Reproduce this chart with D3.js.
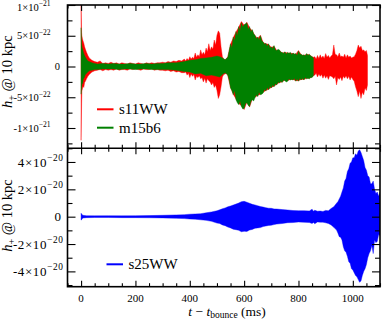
<!DOCTYPE html>
<html><head><meta charset="utf-8">
<script src="https://cdn.jsdelivr.net/npm/d3@7"></script>
<style>body{margin:0;background:#fff}svg{display:block}text{font-family:"Liberation Serif","DejaVu Serif",serif;fill:#000}</style>
</head><body><svg id="c" width="382" height="321"></svg>
<script>
// rows: [t (ms), upper envelope, lower envelope]; top panel in units of 1e-22, bottom in 1e-20
const s11WW = [
[0,10.5,-12.0],[1,8,-9],[2,5.5,-6],[3,5,-4],[5,4.5,-3.6],[7,4.2,-3.2],[10,3.8,-3.4],[13,3.2,-2.6],[16,2.8,-2.4],[20,2.3,-2.0],
[25,1.8,-1.6],[30,1.4,-1.3],[40,1.0,-0.9],[50,0.8,-0.7],[60,0.7,-0.6],[70,0.9,-0.5],[80,0.5,-0.7],[90,0.6,-0.5],[100,0.5,-0.6],
[110,0.7,-0.5],[120,0.5,-0.6],[130,0.6,-0.4],[140,0.4,-0.6],[150,0.6,-0.5],[160,0.5,-0.5],[170,0.4,-0.6],[180,0.6,-0.4],[190,0.5,-0.5],
[200,0.4,-0.4],[210,0.6,-0.5],[220,0.5,-0.6],[230,0.4,-0.4],[240,0.6,-0.5],[250,0.5,-0.5],[260,0.6,-0.4],[270,0.5,-0.6],[280,0.6,-0.5],
[290,0.6,-0.6],[300,0.7,-0.6],[310,0.6,-0.7],[320,0.8,-0.6],[330,0.7,-0.8],[340,0.9,-0.7],[350,0.8,-0.9],[360,1.0,-0.8],[370,0.9,-1.0],
[380,1.2,-1.0],[385,0.9,-0.9],[390,1.3,-1.4],[395,1.0,-1.1],[400,1.6,-1.8],[405,1.2,-1.2],[410,1.5,-1.6],[415,1.3,-1.3],[420,2.2,-2.2],
[425,1.5,-1.6],[430,1.9,-1.8],[435,1.6,-1.5],[440,2.7,-2.0],[445,1.9,-1.8],[450,2.3,-2.5],[455,1.9,-1.9],[460,3.0,-2.7],[465,2.4,-2.0],
[470,3.7,-2.3],[475,2.6,-2.5],[480,3.2,-3.0],[485,2.8,-2.6],[490,4.3,-3.4],[495,3.5,-3.0],[500,5.1,-3.9],[505,5.8,-5.2],[510,5.4,-4.6],
[515,3.2,-3.3],[520,1.6,-1.7],[525,1.2,-1.3],[530,1.1,-1.2],[535,1.3,-1.1],[540,1.6,-1.5],
[550,3.6,-3.4],[560,4.7,-4.5],[570,5.6,-5.3],[580,6.4,-6.0],[590,7.3,-6.4],[600,6.7,-7.0],[610,7.2,-5.8],[620,6.3,-6.6],[630,5.8,-5.3],
[640,5.0,-5.0],[650,4.6,-4.7],[660,5.1,-4.5],[670,3.9,-4.2],[680,3.7,-3.9],[690,3.6,-3.7],[700,3.1,-3.4],[710,3.3,-3.2],[720,2.6,-2.9],
[730,2.6,-2.6],[740,2.2,-2.5],[750,2.3,-2.2],[760,2.2,-2.3],[770,2.2,-2.1],[780,2.1,-2.1],[790,2.0,-2.3],[800,2.6,-2.3],[810,1.9,-2.1],
[820,1.8,-2.1],[830,2.0,-1.9],[840,1.9,-1.9],[850,1.6,-1.7],
[855,1.5,-1.5],[860,1.6,-1.4],[865,1.2,-1.1],[870,1.8,-1.7],[875,1.3,-1.2],[880,1.9,-1.6],[885,1.4,-1.3],[890,1.7,-1.9],[895,1.3,-1.4],
[900,2.1,-1.9],[905,1.5,-1.5],[910,1.8,-2.1],[915,1.4,-1.5],[920,1.7,-1.6],[925,1.9,-1.7],[930,3.5,-2.0],[935,2.0,-1.6],[940,1.9,-3.0],
[945,1.6,-1.8],[950,2.2,-2.1],[955,1.6,-1.7],[960,1.7,-2.3],[965,1.5,-1.6],[970,2.0,-1.9],[975,1.4,-1.5],[980,1.9,-2.0],[985,1.5,-1.6],
[990,1.7,-2.2],[995,1.4,-1.7],[1000,1.5,-2.1],[1005,1.6,-2.4],[1010,2.0,-3.3],[1015,2.6,-4.0],[1020,3.5,-4.9],[1025,3.0,-4.0],
[1030,3.3,-5.2],[1035,2.6,-4.2],[1040,2.7,-4.6],[1045,2.4,-3.5],[1050,2.6,-3.9],[1054,1.8,-3.0]
];
const m15b6 = [
[0,6.3,-4.5],[1,4.5,-3.8],[2,3.6,-3.4],[4,3.0,-2.6],[6,2.8,-2.8],[8,2.4,-2.0],[11,2.0,-1.9],[15,1.6,-1.4],[20,1.2,-1.1],[25,0.9,-0.9],
[30,0.8,-0.7],[40,0.6,-0.6],[50,0.5,-0.5],[60,0.4,-0.5],[80,0.5,-0.4],[100,0.4,-0.4],[120,0.5,-0.4],[140,0.4,-0.5],[160,0.4,-0.4],
[180,0.5,-0.4],[200,0.4,-0.5],[220,0.4,-0.4],[240,0.5,-0.4],[260,0.4,-0.5],[280,0.5,-0.5],[300,0.5,-0.5],[320,0.6,-0.5],[350,0.6,-0.6],
[380,0.8,-0.8],[400,1.0,-0.9],[420,1.1,-1.2],[440,1.3,-1.1],[460,1.4,-1.5],[480,1.5,-1.4],[500,1.7,-1.6],[510,1.6,-1.7],[520,1.4,-1.3],
[530,1.1,-1.0],[540,1.5,-1.4],[545,2.6,-2.2],[550,3.7,-3.5],[555,3.0,-3.9],[560,4.8,-4.6],[565,4.2,-3.9],[570,5.7,-5.4],[575,5.0,-5.9],
[580,6.5,-6.2],[585,5.8,-5.6],[590,7.1,-6.5],[595,6.4,-6.9],[600,6.8,-6.8],[605,6.9,-6.0],[610,7.1,-5.9],[615,6.0,-6.3],[620,6.5,-6.5],
[625,5.6,-5.7],[630,6.0,-5.4],[635,5.3,-5.6],[640,5.1,-5.1],[645,4.5,-4.6],[650,4.8,-4.9],[655,4.3,-4.2],[660,5.0,-4.6],[665,4.2,-4.5],
[670,4.0,-4.3],[675,3.6,-3.7],[680,3.8,-4.0],[685,3.3,-3.4],[690,3.7,-3.8],[695,3.0,-3.2],[700,3.2,-3.5],[705,2.9,-3.0],[710,3.4,-3.3],
[715,2.7,-2.8],[720,2.6,-3.0],[725,2.8,-2.5],[730,2.7,-2.7],[735,2.3,-2.4],[740,2.3,-2.6],[745,2.1,-2.2],[750,2.4,-2.3],[755,2.0,-2.5],
[760,2.3,-2.4],[765,2.1,-2.0],[770,2.3,-2.2],[775,1.9,-2.1],[780,2.2,-2.2],[785,2.0,-1.9],[790,2.1,-2.4],[795,1.8,-2.0],[800,2.5,-2.4],
[805,2.0,-1.9],[810,2.0,-2.2],[815,1.8,-1.9],[820,1.9,-2.2],[825,1.7,-1.8],[830,2.1,-2.0],[835,1.8,-1.9],[840,2.0,-2.0],[845,1.7,-1.8],
[850,1.6,-1.8],[855,1.4,-1.5]
];
const s25WW = [
[0,0.25,-0.25],[3,0.18,-0.2],[6,0.1,-0.1],[20,0.07,-0.07],[50,0.06,-0.06],[100,0.07,-0.06],[150,0.06,-0.07],[200,0.07,-0.07],
[250,0.08,-0.08],[300,0.1,-0.09],[350,0.13,-0.12],[380,0.15,-0.14],[400,0.18,-0.17],[420,0.2,-0.18],[440,0.22,-0.23],[460,0.28,-0.27],
[480,0.35,-0.34],[500,0.43,-0.47],[510,0.5,-0.5],[520,0.58,-0.6],[530,0.64,-0.66],[540,0.72,-0.76],[550,0.78,-0.82],[560,0.85,-0.92],
[570,0.92,-0.95],[580,1.0,-1.0],[590,1.1,-1.1],[600,1.12,-1.07],[610,1.06,-1.08],[620,0.98,-0.98],[630,0.9,-0.93],[640,0.86,-0.85],
[650,0.8,-0.82],[660,0.74,-0.8],[670,0.7,-0.72],[680,0.66,-0.68],[690,0.62,-0.64],[700,0.61,-0.62],[710,0.57,-0.58],[720,0.56,-0.54],
[740,0.52,-0.5],[760,0.49,-0.44],[780,0.45,-0.43],[800,0.44,-0.39],[820,0.44,-0.41],[840,0.42,-0.43],[850,0.55,-0.5],[855,0.4,-0.42],
[860,0.47,-0.52],[870,0.4,-0.38],[880,0.41,-0.4],[890,0.38,-0.4],[900,0.46,-0.45],[910,0.43,-0.5],[920,0.6,-0.6],[930,0.73,-0.78],
[940,0.98,-0.98],[945,1.1,-1.2],[950,1.3,-1.46],[955,1.5,-1.5],[960,1.8,-1.7],[965,2.1,-2.2],[970,2.6,-2.5],[975,2.8,-2.6],[980,3.3,-2.9],
[985,3.5,-3.3],[990,3.9,-3.4],[995,4.0,-3.8],[1000,4.3,-3.9],[1005,4.3,-4.1],[1010,4.6,-4.3],[1015,4.5,-4.4],[1020,4.8,-4.6],[1025,4.9,-4.8],
[1030,4.7,-4.7],[1035,4.4,-4.3],[1040,4.1,-4.0],[1045,3.6,-3.8],[1050,3.4,-3.5],[1055,3.0,-3.0],[1060,2.9,-2.7],[1065,2.4,-2.5],
[1070,2.4,-2.1],[1075,2.6,-2.7],[1080,2.0,-1.7],[1085,1.7,-1.9],[1090,1.8,-1.8],[1095,1.5,-1.3],[1100,1.8,-1.4],[1110,1.5,-1.4]
];
const xMajor = [0,200,400,600,800,1000];
const xMinor = [-50,50,100,150,250,300,350,450,500,550,650,700,750,850,900,950,1050,1100];
const xLabels = ["0","200","400","600","800","1000"];
const topMajor = [-10,-5,0,5,10];
const topMinor = [-12.5,-7.5,-2.5,2.5,7.5];
const topLabels = [["-1×10","−21"],["-5×10","−22"],["0",""],["5×10","−22"],["1×10","−21"]];
const botMajor = [-4,-2,0,2,4];
const botMinor = [-5,-3,-1,1,3,5];
const botLabels = [["-4×10","−20"],["-2×10","−20"],["0",""],["2×10","−20"],["4×10","−20"]];
const legTop = [["s11WW","#ff0000"],["m15b6","#008000"]];
const legBot = [["s25WW","#0000ff"]];

const svg = d3.select("#c");
const L=67.5,R=380,T=5,M=148.3,B=286.7;
const x = d3.scaleLinear().domain([-50,1100]).range([L,R]);
const yT = d3.scaleLinear().domain([-13.3,10]).range([M,T]);
const yB = d3.scaleLinear().domain([-5.12,5.0]).range([B,M]);

const defs = svg.append("defs");
defs.append("clipPath").attr("id","ct").append("rect").attr("x",L).attr("y",T).attr("width",R-L).attr("height",M-T);
defs.append("clipPath").attr("id","cb").append("rect").attr("x",L).attr("y",M).attr("width",R-L).attr("height",B-M);

const areaT = d3.area().x(d=>x(d[0])).y0(d=>yT(d[2])).y1(d=>yT(d[1]));
const areaB = d3.area().x(d=>x(d[0])).y0(d=>yB(d[2])).y1(d=>yB(d[1]));
const gT = svg.append("g").attr("clip-path","url(#ct)");
gT.append("path").datum(s11WW).attr("d",areaT).attr("fill","#ff0000").attr("stroke","#ff0000").attr("stroke-width",0.4);
gT.append("path").datum(m15b6).attr("d",areaT).attr("fill","#008000").attr("stroke","#008000").attr("stroke-width",0.4);
const gB = svg.append("g").attr("clip-path","url(#cb)");
gB.append("path").datum(s25WW).attr("d",areaB).attr("fill","#0000ff").attr("stroke","#0000ff").attr("stroke-width",0.4);

function ticks(axis, tr, vals, size){
  const g = svg.append("g").attr("transform",tr).call(axis.tickValues(vals).tickSize(size).tickFormat(""));
  g.select(".domain").remove();
  g.selectAll("line").attr("stroke","#000").attr("stroke-width",1.1);
}
ticks(d3.axisLeft(yT),`translate(${L},0)`,topMajor,-8);
ticks(d3.axisLeft(yT),`translate(${L},0)`,topMinor,-5);
ticks(d3.axisRight(yT),`translate(${R},0)`,topMajor,-8);
ticks(d3.axisRight(yT),`translate(${R},0)`,topMinor,-5);
ticks(d3.axisLeft(yB),`translate(${L},0)`,botMajor,-8);
ticks(d3.axisLeft(yB),`translate(${L},0)`,botMinor,-5);
ticks(d3.axisRight(yB),`translate(${R},0)`,botMajor,-8);
ticks(d3.axisRight(yB),`translate(${R},0)`,botMinor,-5);
[[d3.axisTop,T],[d3.axisBottom,M],[d3.axisTop,M],[d3.axisBottom,B]].forEach(([ax,yy])=>{
  ticks(ax(x),`translate(0,${yy})`,xMajor,-6);
  ticks(ax(x),`translate(0,${yy})`,xMinor,-3.5);
});
svg.append("rect").attr("x",L).attr("y",T).attr("width",R-L).attr("height",B-T).attr("fill","none").attr("stroke","#000").attr("stroke-width",1.6);
svg.append("line").attr("x1",L).attr("x2",R).attr("y1",M).attr("y2",M).attr("stroke","#000").attr("stroke-width",1.6);

svg.append("g").selectAll("text").data(xMajor).join("text")
  .attr("x",d=>x(d)).attr("y",B+15).attr("text-anchor","middle").attr("font-size",11)
  .text((d,i)=>xLabels[i]);

function ylabels(vals, labs, sc, xEnd, xZero, fs, ls){
  vals.forEach((v,i)=>{
    const [base,sup] = labs[i];
    const t = svg.append("text").attr("y",Math.max(sc(v)+fs*0.35,10.5)).attr("font-size",fs).attr("text-anchor","end");
    if(sup===""){ t.attr("x",xZero).text(base); }
    else {
      t.attr("x",xEnd).attr("letter-spacing",ls);
      t.append("tspan").text(base);
      t.append("tspan").attr("dy",-fs*0.42).attr("font-size",fs*0.72).text(sup);
    }
  });
}
ylabels(topMajor, topLabels, yT, 50.5, 60, 10.5, 0);
ylabels(botMajor, botLabels, yB, 63.5, 61, 13, 0.6);

function ytitle(cy){
  const t = svg.append("text").attr("transform",`translate(12,${cy}) rotate(-90)`).attr("text-anchor","middle").attr("font-size",14.5);
  t.append("tspan").attr("font-style","italic").text("h");
  t.append("tspan").attr("dy",3).attr("font-size",10).text("+");
  t.append("tspan").attr("dy",-3).text(" @ 10 kpc");
}
ytitle((T+M)/2-5);
ytitle((M+B)/2-2);
const xt = svg.append("text").attr("x",227).attr("y",315.5).attr("text-anchor","middle").attr("font-size",13.5);
xt.append("tspan").attr("font-style","italic").text("t");
xt.append("tspan").text(" − ");
xt.append("tspan").attr("font-style","italic").text("t");
xt.append("tspan").attr("dy",2.5).attr("font-size",9.5).text("bounce");
xt.append("tspan").attr("dy",-2.5).text(" (ms)");

function legend(items, x0, y0, dy){
  items.forEach(([name,col],i)=>{
    const yy = y0+i*dy;
    svg.append("line").attr("x1",x0).attr("x2",x0+16.5).attr("y1",yy).attr("y2",yy).attr("stroke",col).attr("stroke-width",2);
    svg.append("text").attr("x",x0+22).attr("y",yy+5).attr("font-size",15).text(name);
  });
}
legend(legTop, 97, 109.3, 18.4);
legend(legBot, 106.5, 264.3, 18.4);
</script></body></html>
